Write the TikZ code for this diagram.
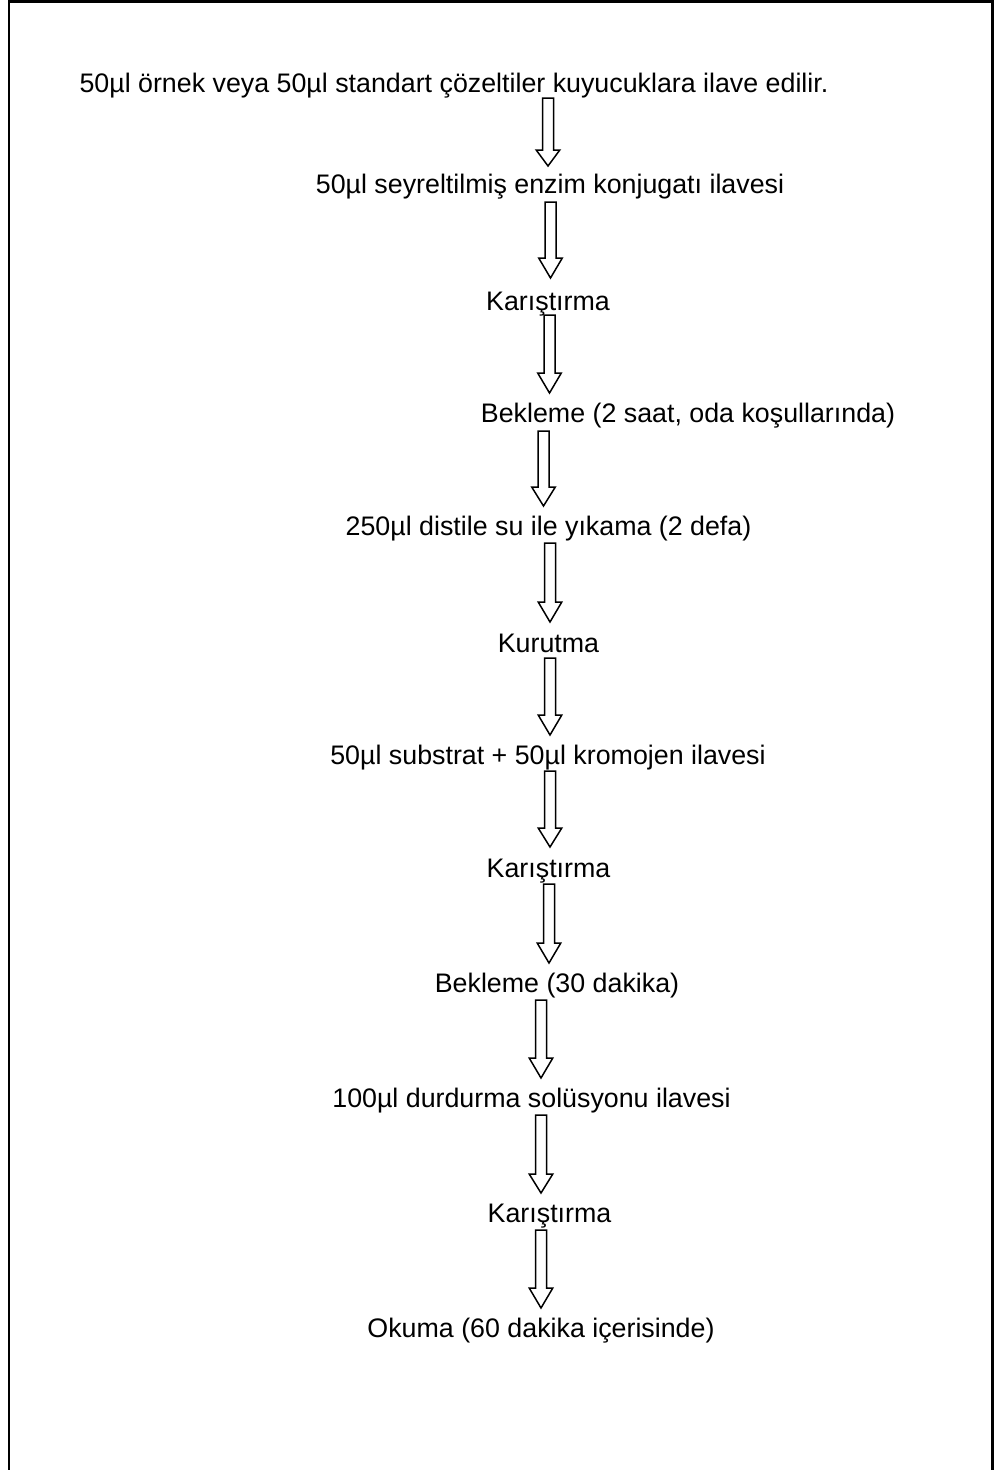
\documentclass[tikz,border=0pt]{standalone}
\usepackage{fontspec}
\setmainfont{Liberation Sans}
\usetikzlibrary{calc}
\tikzset{
  steptext/.style={anchor=base, inner sep=0pt, font=\fontsize{26.8}{31}\selectfont},
  blk/.style={draw=black, line width=1.5pt, fill=white, line join=miter},
  frameline/.style={draw=black, line width=2.6pt}
}
% block arrow: #1 name, #2 x centre, #3 top y, #4 head base y, #5 tip y
\newcommand{\blockarrow}[5]{%
  \coordinate (#1s) at (#2,#3);
  \coordinate (#1e) at (#2,#5);
  \draw[blk] ($(#1s)+(-5.5,0)$) -- ($(#1s)+(5.5,0)$) -- (#2+5.5,#4) -- (#2+11.8,#4)
    -- (#1e) -- (#2-11.8,#4) -- (#2-5.5,#4) -- cycle;}
\begin{document}
\begin{tikzpicture}[x=1pt,y=-1pt]
\useasboundingbox (0,0) rectangle (994,1470);
\draw[frameline] (9,1472) -- (9,1.3) -- (992.7,1.3) -- (992.7,1472);

\node[steptext] (t1)  at (454,92)    {50µl örnek veya 50µl standart çözeltiler kuyucuklara ilave edilir.};
\node[steptext] (t2)  at (550,193)   {50µl seyreltilmiş enzim konjugatı ilavesi};
\node[steptext] (t3)  at (548,310)   {Karıştırma};
\node[steptext] (t4)  at (688,422)   {Bekleme (2 saat, oda koşullarında)};
\node[steptext] (t5)  at (548.5,535) {250µl distile su ile yıkama (2 defa)};
\node[steptext] (t6)  at (548.5,652) {Kurutma};
\node[steptext] (t7)  at (548,764)   {50µl substrat + 50µl kromojen ilavesi};
\node[steptext] (t8)  at (548.5,877) {Karıştırma};
\node[steptext] (t9)  at (557,992)   {Bekleme (30 dakika)};
\node[steptext] (t10) at (531.5,1107){100µl durdurma solüsyonu ilavesi};
\node[steptext] (t11) at (549.5,1222){Karıştırma};
\node[steptext] (t12) at (541,1337)  {Okuma (60 dakika içerisinde)};

\blockarrow{a1}{548}{98}{150}{166}
\blockarrow{a2}{550.5}{202}{258}{278}
\blockarrow{a3}{549.5}{315}{373}{393}
\blockarrow{a4}{543.5}{431}{487}{506}
\blockarrow{a5}{550}{543}{602}{622}
\blockarrow{a6}{550}{658}{715}{735}
\blockarrow{a7}{550}{771}{828}{847}
\blockarrow{a8}{549}{884}{943}{963}
\blockarrow{a9}{541}{1000}{1058}{1078}
\blockarrow{a10}{541}{1115}{1174}{1193}
\blockarrow{a11}{541}{1230}{1288}{1308}
\end{tikzpicture}
\end{document}
